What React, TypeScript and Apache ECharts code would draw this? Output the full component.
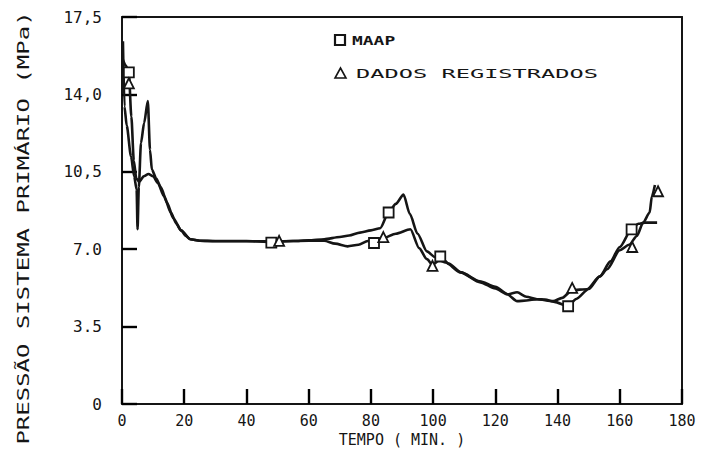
import React, { useEffect, useRef } from "react";
import * as echarts from "echarts";

// Simulated primary-system pressure (MAAP code)
const maapTime = [0.2, 1.2, 2.2, 3.0, 3.8, 4.6, 5.5, 7.0, 8.5, 10.0, 11.5, 13.5, 15.7, 17.5, 19.0, 20.5, 22.0, 25, 30, 40, 48, 55, 60, 65, 70, 73, 76.5, 80, 83, 85.7, 88, 90.5, 92.5, 95, 98, 100.5, 102.3, 105, 109, 115, 120, 124, 127, 130, 133.4, 136, 139, 143.4, 146, 150, 153.6, 157, 160, 163.8, 166, 168, 172];
const maapPressure = [15.6, 15.3, 15.0, 13.0, 11.0, 10.2, 10.05, 10.3, 10.4, 10.3, 10.0, 9.4, 8.66, 8.15, 7.85, 7.6, 7.45, 7.38, 7.37, 7.37, 7.33, 7.37, 7.4, 7.45, 7.55, 7.62, 7.75, 7.85, 7.95, 8.66, 9.05, 9.47, 8.6, 7.7, 6.9, 6.65, 6.67, 6.35, 5.95, 5.55, 5.3, 4.96, 5.05, 4.85, 4.74, 4.72, 4.62, 4.42, 4.75, 5.2, 5.77, 6.45, 7.1, 7.9, 8.15, 8.2, 8.2];

// Recorded plant data
const dadosTime = [0.3, 0.8, 1.5, 2.9, 3.9, 4.7, 5.0, 5.4, 6.1, 7.1, 8.3, 9.0, 9.6, 11.0, 12.5, 14.5, 16.5, 19, 22, 25, 30, 40, 50, 60, 65, 68.5, 72.5, 76, 79, 81, 84, 88, 92.7, 95.5, 98, 99.8, 102, 104, 108.8, 115.2, 120, 123.8, 127, 130, 133.4, 138.6, 141.5, 144.7, 149.5, 153.6, 155.9, 160, 163, 165.5, 167.5, 169.6, 170.3, 171.3];
const dadosPressure = [16.4, 13.45, 12.6, 11.2, 10.3, 9.7, 7.9, 9.8, 11.8, 12.7, 13.7, 11.5, 10.6, 10.2, 9.8, 9.1, 8.4, 7.85, 7.45, 7.38, 7.36, 7.36, 7.36, 7.38, 7.38, 7.25, 7.13, 7.2, 7.37, 7.3, 7.5, 7.7, 7.9, 7.05, 6.55, 6.3, 6.5, 6.4, 5.95, 5.5, 5.22, 4.96, 4.65, 4.68, 4.74, 4.65, 4.8, 5.15, 5.19, 5.77, 6.09, 6.95, 7.2, 7.6, 8.2, 8.66, 9.38, 9.9];

// Marked sample points
const maapMarkTime = [2.2, 48, 81, 85.7, 102.3, 143.4, 163.8];
const maapMarkPressure = [15.0, 7.3, 7.28, 8.66, 6.67, 4.42, 7.9];
const dadosMarkTime = [2.2, 50.5, 84, 99.8, 144.7, 164, 172.3];
const dadosMarkPressure = [14.5, 7.38, 7.55, 6.25, 5.25, 7.1, 9.62];

// Axis tick labels
const xTickLabels = ["0", "20", "40", "60", "80", "100", "120", "140", "160", "180"];
const yTickLabels = ["0", "3.5", "7.0", "10,5", "14,0", "17,5"];

const INK = "#151515";
const FONT = "DejaVu Sans Mono";

const pairs = (xs: number[], ys: number[]) => xs.map((x, i) => [x, ys[i]]);

export default function App() {
  const ref = useRef<HTMLDivElement>(null);

  useEffect(() => {
    if (!ref.current) return;
    const chart = echarts.init(ref.current, undefined, { renderer: "svg" });

    const lineSeries = (name: string, data: number[][]) => ({
      name,
      type: "line",
      data,
      showSymbol: false,
      smooth: 0.25,
      smoothMonotone: "x",
      lineStyle: { color: INK, width: 2.6 },
      silent: true,
      z: 2,
    });

    const markSeries = (name: string, symbol: string, data: number[][]) => ({
      name,
      type: "scatter",
      symbol,
      symbolSize: 10,
      data,
      itemStyle: { color: "#ffffff", borderColor: INK, borderWidth: 1.8, opacity: 1 },
      z: 3,
    });

    const frameAxis = {
      axisLine: { show: true, onZero: false, lineStyle: { color: INK, width: 2 } },
      axisTick: { show: false },
      axisLabel: { show: false },
      splitLine: { show: false },
    };

    const innerTicks = {
      show: true,
      inside: true,
      length: 15,
      lineStyle: { color: "#000000", width: 2.4, opacity: 1 },
    };

    chart.setOption({
      animation: false,
      backgroundColor: "#ffffff",
      grid: { left: 122, right: 20, top: 17, bottom: 64, show: false },
      xAxis: [
        {
          type: "value",
          position: "bottom",
          min: 0,
          max: 180,
          interval: 20,
          axisLine: { show: true, onZero: false, lineStyle: { color: INK, width: 2 } },
          axisTick: innerTicks,
          splitLine: { show: false },
          axisLabel: {
            color: INK,
            fontFamily: FONT,
            fontSize: 15,
            margin: 9,
            formatter: (v: number) => xTickLabels[Math.round(v / 20)] ?? "",
          },
          name: "TEMPO ( MIN. )",
          nameLocation: "middle",
          nameGap: 28,
          nameTextStyle: { color: INK, fontFamily: FONT, fontSize: 15 },
        },
        { type: "value", position: "top", min: 0, max: 180, ...frameAxis },
      ],
      yAxis: [
        {
          type: "value",
          position: "left",
          min: 0,
          max: 17.5,
          interval: 3.5,
          axisLine: { show: true, onZero: false, lineStyle: { color: INK, width: 2 } },
          axisTick: innerTicks,
          splitLine: { show: false },
          axisLabel: {
            color: INK,
            fontFamily: FONT,
            fontSize: 16,
            margin: 20,
            formatter: (v: number) => yTickLabels[Math.round(v / 3.5)] ?? "",
          },
        },
        { type: "value", position: "right", min: 0, max: 17.5, ...frameAxis },
      ],
      graphic: [
        {
          type: "text",
          x: 24,
          y: 228,
          rotation: Math.PI / 2,
          scaleX: 1.6,
          style: {
            text: "PRESSÃO SISTEMA PRIMÁRIO (MPa)",
            fill: INK,
            font: `15px "${FONT}"`,
            align: "center",
            verticalAlign: "middle",
          },
        },
        {
          type: "rect",
          shape: { x: 335, y: 35, width: 10, height: 10 },
          style: { fill: "#ffffff", stroke: INK, lineWidth: 2.2 },
        },
        {
          type: "text",
          x: 352,
          y: 40,
          scaleX: 1.38,
          style: {
            text: "MAAP",
            fill: INK,
            font: `bold 13px "${FONT}"`,
            align: "left",
            verticalAlign: "middle",
          },
        },
        {
          type: "polygon",
          shape: { points: [[335, 78], [346, 78], [340.5, 68]] },
          style: { fill: "#ffffff", stroke: INK, lineWidth: 1.6 },
        },
        {
          type: "text",
          x: 356,
          y: 73,
          scaleX: 1.82,
          style: {
            text: "DADOS REGISTRADOS",
            fill: INK,
            font: `13px "${FONT}"`,
            align: "left",
            verticalAlign: "middle",
          },
        },
      ],
      series: [
        lineSeries("MAAP curva", pairs(maapTime, maapPressure)),
        lineSeries("DADOS curva", pairs(dadosTime, dadosPressure)),
        markSeries("MAAP", "rect", pairs(maapMarkTime, maapMarkPressure)),
        markSeries("DADOS REGISTRADOS", "triangle", pairs(dadosMarkTime, dadosMarkPressure)),
      ],
    });

    return () => chart.dispose();
  }, []);

  return (
    <div
      ref={ref}
      style={{ position: "fixed", left: 0, top: 0, width: 702, height: 468, background: "#fff" }}
    />
  );
}
